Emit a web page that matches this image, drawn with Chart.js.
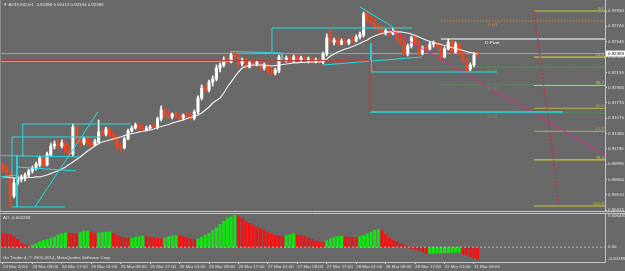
<!DOCTYPE html>
<html>
<head>
<meta charset="utf-8">
<title>AUDUSD,H1</title>
<style>
  html, body { margin: 0; padding: 0; background: #696969; }
  #wrap { position: relative; width: 625px; height: 271px; background: #696969; overflow: hidden; }
  #mainChart { position: absolute; left: 0; top: 0; }
  #aoChart { position: absolute; left: 0; top: 212px; }
</style>
</head>
<body>
<div id="wrap">
  <canvas id="mainChart" width="625" height="212"></canvas>
  <canvas id="aoChart" width="625" height="59"></canvas>
</div>
<script src="https://cdn.jsdelivr.net/npm/chart.js"></script>
<script>
// --- data: AUDUSD H1, 24 Mar 2014 01:00 .. 31 Mar 2014 10:00 (bar index 0..129)
const symbolName = 'AUDUSD,H1';
const timeLabels = ['24 Mar 2014', '24 Mar 09:00', '24 Mar 17:00', '25 Mar 01:00', '25 Mar 09:00',
  '25 Mar 17:00', '26 Mar 01:00', '26 Mar 09:00', '26 Mar 17:00', '27 Mar 01:00', '27 Mar 09:00',
  '27 Mar 17:00', '28 Mar 01:00', '28 Mar 09:00', '28 Mar 17:00', '31 Mar 01:00', '31 Mar 09:00'];
const labelBars = [0, 8, 16, 24, 32, 40, 48, 56, 64, 72, 80, 88, 96, 104, 112, 120, 128];
const priceTicks = [0.92930, 0.92740, 0.92545, 0.92350, 0.92155, 0.91965, 0.91770,
  0.91575, 0.91380, 0.91190, 0.90995, 0.90800, 0.90610, 0.90415];

const openP = [
  .90984, .90921, .90858, .90593, .90757, .90807, .90820, .90858, .90909, .90946,
  .90984, .91073, .90984, .91111, .91225, .91250, .91225, .91262, .91161, .91123,
  .91465, .91300, .91262, .91313, .91250, .91237, .91275, .91402, .91376, .91439,
  .91364, .91313, .91225, .91199, .91313, .91414, .91452, .91490, .91452, .91427,
  .91452, .91477, .91465, .91566, .91667, .91616, .91591, .91629, .91604, .91578,
  .91616, .91591, .91578, .91654, .91831, .91958, .91932, .92034, .92071, .92210,
  .92248, .92312, .92286, .92375, .92362, .92261, .92312, .92223, .92274, .92261,
  .92286, .92210, .92248, .92173, .92147, .92173, .92350, .92312, .92337, .92299,
  .92350, .92312, .92337, .92299, .92324, .92286, .92312, .92286, .92387, .92590,
  .92539, .92564, .92514, .92552, .92526, .92564, .92552, .92602, .92628, .92893,
  .92817, .92779, .92729, .92691, .92653, .92678, .92640, .92678, .92577, .92539,
  .92387, .92489, .92590, .92514, .92400, .92463, .92451, .92514, .92526, .92476,
  .92350, .92451, .92539, .92413, .92514, .92400, .92312, .92198, .92248, .92396];
const highP = [
  .91010, .90972, .90896, .90820, .90845, .90858, .90883, .90934, .90972, .91022,
  .91098, .91098, .91149, .91262, .91288, .91300, .91300, .91288, .91225, .91503,
  .91490, .91351, .91338, .91338, .91313, .91313, .91553, .91439, .91465, .91465,
  .91402, .91364, .91262, .91338, .91439, .91477, .91515, .91515, .91490, .91477,
  .91490, .91515, .91591, .91730, .91705, .91667, .91642, .91654, .91642, .91629,
  .91654, .91642, .91680, .91857, .91996, .92008, .92059, .92109, .92248, .92274,
  .92350, .92362, .92400, .92413, .92387, .92337, .92337, .92299, .92312, .92299,
  .92312, .92274, .92274, .92236, .92210, .92375, .92375, .92362, .92375, .92375,
  .92387, .92362, .92362, .92350, .92350, .92337, .92337, .92413, .92640, .92703,
  .92590, .92602, .92577, .92590, .92577, .92602, .92628, .92666, .92918, .92931,
  .92868, .92842, .92767, .92741, .92703, .92716, .92716, .92716, .92640, .92615,
  .92514, .92615, .92615, .92552, .92489, .92501, .92539, .92552, .92539, .92489,
  .92476, .92577, .92564, .92539, .92526, .92438, .92337, .92274, .92400, .92412];
const lowP = [
  .90896, .90858, .90454, .90567, .90732, .90770, .90782, .90833, .90883, .90921,
  .90959, .90946, .90972, .91098, .91187, .91199, .91199, .91136, .91086, .91098,
  .91262, .91225, .91237, .91225, .91212, .91225, .91250, .91351, .91351, .91338,
  .91288, .91174, .91149, .91187, .91300, .91402, .91439, .91427, .91414, .91414,
  .91427, .91452, .91439, .91541, .91591, .91578, .91566, .91578, .91566, .91553,
  .91578, .91553, .91553, .91629, .91806, .91907, .91907, .91983, .92046, .92160,
  .92223, .92261, .92274, .92337, .92236, .92236, .92198, .92210, .92236, .92236,
  .92185, .92185, .92135, .92122, .92122, .92147, .92286, .92286, .92274, .92286,
  .92286, .92286, .92274, .92274, .92261, .92274, .92261, .92261, .92362, .92514,
  .92501, .92489, .92501, .92514, .92501, .92526, .92539, .92577, .92602, .92792,
  .92754, .92703, .92666, .92640, .92628, .92615, .92628, .92552, .92514, .92362,
  .92362, .92463, .92489, .92362, .92375, .92425, .92438, .92476, .92463, .92324,
  .92337, .92438, .92387, .92400, .92375, .92286, .92160, .92173, .92223, .92344];
const closeP = [
  .90921, .90871, .90593, .90757, .90807, .90833, .90858, .90909, .90946, .90997,
  .91073, .90984, .91123, .91225, .91250, .91225, .91262, .91161, .91123, .91465,
  .91300, .91262, .91313, .91250, .91237, .91288, .91402, .91376, .91439, .91364,
  .91313, .91212, .91199, .91313, .91414, .91452, .91490, .91452, .91427, .91452,
  .91465, .91465, .91566, .91680, .91616, .91591, .91629, .91604, .91578, .91616,
  .91591, .91578, .91654, .91831, .91958, .91932, .92034, .92071, .92210, .92248,
  .92312, .92286, .92375, .92362, .92261, .92312, .92223, .92274, .92261, .92286,
  .92210, .92248, .92173, .92147, .92185, .92350, .92312, .92337, .92299, .92350,
  .92312, .92337, .92299, .92324, .92286, .92312, .92286, .92387, .92590, .92539,
  .92564, .92514, .92552, .92526, .92564, .92552, .92602, .92640, .92893, .92817,
  .92779, .92729, .92691, .92653, .92678, .92640, .92678, .92577, .92539, .92387,
  .92489, .92590, .92514, .92400, .92463, .92451, .92514, .92526, .92476, .92350,
  .92451, .92539, .92413, .92514, .92400, .92312, .92198, .92248, .92375, .92393];
// moving average
const maPrice = [
  .90833, .90833, .90826, .90820, .90820, .90820, .90820, .90826, .90826, .90833,
  .90833, .90845, .90858, .90877, .90896, .90909, .90934, .90959, .90991, .91022,
  .91054, .91086, .91123, .91161, .91193, .91225, .91256, .91275, .91288, .91300,
  .91313, .91326, .91338, .91357, .91370, .91383, .91389, .91402, .91408, .91421,
  .91427, .91439, .91458, .91471, .91484, .91496, .91515, .91528, .91541, .91553,
  .91572, .91585, .91597, .91616, .91642, .91680, .91718, .91768, .91800, .91831,
  .91894, .91970, .92034, .92097, .92160, .92210, .92229, .92242, .92248, .92248,
  .92248, .92248, .92242, .92236, .92242, .92248, .92255, .92261, .92267, .92274,
  .92274, .92280, .92280, .92286, .92286, .92286, .92286, .92293, .92324, .92362,
  .92387, .92413, .92432, .92451, .92463, .92482, .92501, .92520, .92545, .92564,
  .92596, .92615, .92634, .92647, .92659, .92666, .92666, .92666, .92666, .92659,
  .92653, .92640, .92621, .92602, .92583, .92564, .92545, .92533, .92520, .92507,
  .92495, .92482, .92470, .92457, .92444, .92432, .92419, .92406, .92400, .92387];
// Awesome Oscillator
const aoValues = [
  .00261, .00260, .00248, .00203, .00150, .00072, .00040, .00020, .00040, .00072,
  .00105, .00131, .00150, .00183, .00203, .00235, .00261, .00281, .00274, .00268,
  .00262, .00294, .00313, .00316, .00300, .00274, .00281, .00287, .00294, .00300,
  .00274, .00235, .00196, .00183, .00170, .00176, .00196, .00209, .00216, .00209,
  .00196, .00183, .00170, .00163, .00183, .00209, .00222, .00229, .00216, .00203,
  .00183, .00163, .00150, .00163, .00196, .00235, .00274, .00326, .00378, .00443,
  .00508, .00560, .00593, .00619, .00600, .00560, .00508, .00463, .00424, .00391,
  .00365, .00333, .00300, .00261, .00235, .00216, .00203, .00229, .00248, .00261,
  .00235, .00222, .00203, .00183, .00150, .00118, .00098, .00085, .00131, .00163,
  .00196, .00209, .00212, .00203, .00196, .00193, .00189, .00209, .00229, .00261,
  .00300, .00333, .00346, .00326, .00248, .00183, .00131, .00105, .00066, .00040,
  .00014, -.00025, -.00045, -.00064, -.00091, -.00130, -.00123, -.00120, -.00117, -.00114,
  -.00110, -.00107, -.00104, -.00100, -.00097, -.00143, -.00156, -.00188, -.00210, -.002268];

// daily pivots and fibo levels
const pivotNames = ['D H1', 'D Pivot', 'D S1', 'D S2', 'D S3'];
const pivotPrices = [0.92805, 0.92577, 0.92223, 0.91996, 0.91642];
const pivotFromBar = 119, pivotLabelBar = 133;
const fibLevels = ['0.0', '23.6', '38.2', '50.0', '61.8', '76.4', '100.0'];
const fibPrices = [0.92931, 0.92349, 0.91989, 0.91699, 0.91408, 0.91048, 0.90466];
const fibFromBar = 144.3;

// drawn objects as [bar, price] points
const redLevel = [[-0.8, 0.92305], [99.7, 0.92305], [99.7, 0.91654]];
const cyanLevel = [[-0.8, 0.92293], [61.7, 0.92293]];
const cyanStepA = [[61.7, 0.92419], [75.8, 0.92400], [75.8, 0.92312]];
const cyanBoxB = [[73.1, 0.92413], [73.1, 0.92716], [111.1, 0.92716]];
const cyanChannel = [[87.0, 0.92248], [113.9, 0.92350]];
const cyanBoxC = [[100.0, 0.92526], [100.0, 0.92160], [134.2, 0.92160]];
const cyanSupport = [[99.7, 0.91654], [152.2, 0.91654]];
const cyanTopTrend = [[97.0, 0.92982], [106.0, 0.92729]];
const magentaTrend = [[105.2, 0.92691], [163.6, 0.91111]];
const redDotted = [[144.3, 0.92931], [151.1, 0.90504]];
const cyanBoxD = [[5.4, 0.91086], [5.4, 0.91503], [34.8, 0.91503]];
const cyanBoxE = [[2.45, 0.90833], [2.45, 0.91338], [26.4, 0.91338]];
const cyanLevelF = [[-0.8, 0.91104], [20.9, 0.91086]];
const cyanLevelG = [[3.8, 0.90959], [19.8, 0.90909]];
const cyanLevelH = [[-0.8, 0.90833], [3.8, 0.90858]];
const cyanFrameI = [[3.8, 0.91111], [3.8, 0.90454]];
const cyanBase = [[2.45, 0.90454], [16.8, 0.90454]];
const cyanDiag = [[8.7, 0.90454], [25.8, 0.91654]];

const xMin = -0.8, xMax = 163.6;
const yMin = 0.90390, yMax = 0.93070;
const aoMin = -0.002895, aoMax = 0.006481;

// --- styles
const FONT = '"Liberation Sans", "DejaVu Sans", sans-serif';
const FS = 4.4;
const TXT = '#e2e2e2';
const FRAME = '#c6c6c6';
const UP = '#ffffff', DOWN = '#f0461e';
const CYAN = '#22dde6';

const lineSet = (pts, color, opt = {}) => ({
  type: 'line',
  data: pts.map(([x, y]) => ({x, y})),
  borderColor: color,
  borderWidth: opt.width || 1,
  borderDash: opt.dash || [],
  pointRadius: 0,
  fill: false,
  tension: 0,
  order: opt.order ?? 0
});

const last = closeP.length - 1;
const lastClose = closeP[last];
const bodyColors = openP.map((o, i) => closeP[i] >= o ? UP : DOWN);

const mainSets = [
  lineSet(redLevel, '#b4403c'),
  lineSet(cyanLevel, CYAN),
  lineSet(cyanStepA, CYAN),
  lineSet(cyanBoxB, CYAN),
  lineSet(cyanChannel, CYAN),
  lineSet(cyanBoxC, CYAN),
  lineSet(cyanSupport, CYAN, {width: 1.3}),
  lineSet(cyanTopTrend, CYAN),
  lineSet(magentaTrend, '#e0288c'),
  lineSet(redDotted, '#e8202a', {dash: [1.5, 2], width: 1.2}),
  lineSet(cyanBoxD, CYAN), lineSet(cyanBoxE, CYAN), lineSet(cyanLevelF, CYAN),
  lineSet(cyanLevelG, CYAN), lineSet(cyanLevelH, CYAN), lineSet(cyanFrameI, CYAN),
  lineSet(cyanBase, CYAN), lineSet(cyanDiag, CYAN),
  {
    type: 'line', data: maPrice.map((v, i) => ({x: i, y: v})),
    borderColor: '#f2f2f2', borderWidth: 1.2, pointRadius: 0, tension: 0, order: 1
  },
  {
    type: 'bar', data: openP.map((o, i) => ({x: i, y: [o, closeP[i]]})),
    backgroundColor: bodyColors, barThickness: 2.4, grouped: false, minBarLength: 1, order: 2
  },
  {
    type: 'bar', data: openP.map((o, i) => ({x: i, y: [lowP[i], highP[i]]})),
    backgroundColor: bodyColors, barThickness: 1, grouped: false, order: 3
  },
  lineSet([[xMin, lastClose], [xMax, lastClose]], '#a4a4a4', {order: 6})
];
const pivotLineColors = ['#d08a30', '#ffffff', '#3cb043', '#3cb043', '#3cb043'];
pivotPrices.forEach((p, k) => {
  mainSets.push(lineSet([[pivotFromBar, p], [xMax, p]], pivotLineColors[k],
    {dash: k === 1 ? [] : [1.5, 1.5], order: 5}));
});
const fibColors = ['#c8c83c', '#c8c83c', '#c8c83c', '#a6a650', '#a6a650', '#c8c83c', '#c8c83c'];
fibPrices.forEach((p, k) => {
  mainSets.push(lineSet([[fibFromBar, p], [xMax, p]], fibColors[k], {width: 1.2, order: 4}));
});

const mainText = {
  id: 'mainText',
  afterDraw(chart) {
    const {ctx, chartArea, scales: {x, y}} = chart;
    ctx.save();
    ctx.font = FS + 'px ' + FONT;
    ctx.textBaseline = 'middle';
    ctx.fillStyle = TXT;
    ctx.textAlign = 'left';
    const t = [openP[last], highP[last], lowP[last], closeP[last]].map(v => v.toFixed(5)).join(' ');
    ctx.fillText('\u25BC ' + symbolName + '  ' + t, 3, 5);
    // pivot names
    ctx.textAlign = 'center';
    pivotNames.forEach((n, k) => {
      ctx.fillStyle = pivotLineColors[k] === '#ffffff' ? '#ffffff' : (k === 0 ? '#c8903c' : '#46b44e');
      ctx.fillText(n, x.getPixelForValue(pivotLabelBar), y.getPixelForValue(pivotPrices[k]) + 4);
    });
    // fibo level names
    ctx.textAlign = 'right';
    fibLevels.forEach((n, k) => {
      ctx.fillStyle = fibColors[k];
      ctx.fillText(n, chartArea.right - 1, y.getPixelForValue(fibPrices[k]) - 2.6);
    });
    // current price box
    const py = y.getPixelForValue(lastClose);
    ctx.fillStyle = '#ffffff';
    ctx.fillRect(chartArea.right + 1, py - 3, 20, 6);
    ctx.fillStyle = '#000000';
    ctx.textAlign = 'left';
    ctx.fillText(lastClose.toFixed(5), chartArea.right + 3, py);
    // frame
    ctx.strokeStyle = FRAME;
    ctx.lineWidth = 1;
    ctx.beginPath();
    ctx.moveTo(0, 211.5); ctx.lineTo(625, 211.5);
    ctx.stroke();
    ctx.strokeStyle = '#8c8c8c';
    ctx.beginPath();
    ctx.moveTo(0.5, 0); ctx.lineTo(0.5, 211);
    ctx.stroke();
    ctx.restore();
  }
};

new Chart(document.getElementById('mainChart'), {
  type: 'bar',
  data: {datasets: mainSets},
  options: {
    responsive: false, animation: false, events: [], devicePixelRatio: 1,
    layout: {padding: 0},
    plugins: {legend: {display: false}, tooltip: {enabled: false}},
    scales: {
      x: {type: 'linear', min: xMin, max: xMax, display: false, offset: false},
      y: {
        type: 'linear', position: 'right', min: yMin, max: yMax, beginAtZero: false,
        afterBuildTicks: s => { s.ticks = priceTicks.map(v => ({value: v})); },
        afterFit: s => { s.width = 20; s.paddingTop = 0; s.paddingBottom = 0; },
        ticks: {autoSkip: false, padding: 1, color: TXT, font: {family: FONT, size: FS},
          callback: v => v.toFixed(5)},
        grid: {drawOnChartArea: false, drawTicks: true, tickLength: 2, color: FRAME},
        border: {display: true, color: FRAME}
      }
    }
  },
  plugins: [mainText]
});

// --- AO window
const aoColors = aoValues.map((v, i) => i > 0 && v > aoValues[i - 1] ? '#16e016' : '#f01414');

const aoText = {
  id: 'aoText',
  afterDraw(chart) {
    const {ctx, chartArea, scales: {y}} = chart;
    ctx.save();
    ctx.font = FS + 'px ' + FONT;
    ctx.textBaseline = 'middle';
    ctx.fillStyle = TXT;
    ctx.textAlign = 'left';
    ctx.fillText('AO ' + aoValues[last].toFixed(6), 3, 6);
    ctx.fillText('Go Trader 4, \u00A9 2001-2014, MetaQuotes Software Corp.', 3, 46);
    const rx = chartArea.right + 3;
    ctx.fillText(aoMax.toFixed(6), rx, chartArea.top + 2);
    ctx.fillText('0.00', rx, y.getPixelForValue(0));
    ctx.fillText(aoMin.toFixed(6), rx, chartArea.bottom - 3);
    ctx.strokeStyle = FRAME;
    ctx.lineWidth = 1;
    ctx.beginPath();
    ctx.moveTo(0, 1.5); ctx.lineTo(625, 1.5);
    ctx.stroke();
    ctx.strokeStyle = '#8c8c8c';
    ctx.beginPath();
    ctx.moveTo(0.5, 2); ctx.lineTo(0.5, chartArea.bottom);
    ctx.stroke();
    ctx.restore();
  }
};

new Chart(document.getElementById('aoChart'), {
  type: 'bar',
  data: {
    datasets: [
      lineSet([[xMin, 0], [xMax, 0]], '#b8b8b8', {dash: [2, 2], order: 0}),
      {
        type: 'bar', data: aoValues.map((v, i) => ({x: i, y: v})),
        backgroundColor: aoColors, barThickness: 2.4, grouped: false, order: 1
      }
    ]
  },
  options: {
    responsive: false, animation: false, events: [], devicePixelRatio: 1,
    layout: {padding: {top: 2, left: 0, right: 0, bottom: 0}},
    plugins: {legend: {display: false}, tooltip: {enabled: false}},
    scales: {
      x: {
        type: 'linear', min: xMin, max: xMax, position: 'bottom', offset: false,
        afterBuildTicks: s => { s.ticks = labelBars.map(v => ({value: v})); },
        afterFit: s => { s.height = 9; s.paddingLeft = 0; s.paddingRight = 0; },
        ticks: {autoSkip: false, maxRotation: 0, minRotation: 0, align: 'start', padding: 0,
          color: TXT, font: {family: FONT, size: FS}, callback: (v, idx) => timeLabels[idx]},
        grid: {drawOnChartArea: false, drawTicks: true, tickLength: 2, color: FRAME, offset: false},
        border: {display: true, color: FRAME}
      },
      y: {
        type: 'linear', position: 'right', min: aoMin, max: aoMax, beginAtZero: false,
        afterFit: s => { s.width = 20; s.paddingTop = 0; s.paddingBottom = 0; },
        ticks: {display: false},
        grid: {display: false},
        border: {display: true, color: FRAME}
      }
    }
  },
  plugins: [aoText]
});
</script>
</body>
</html>
